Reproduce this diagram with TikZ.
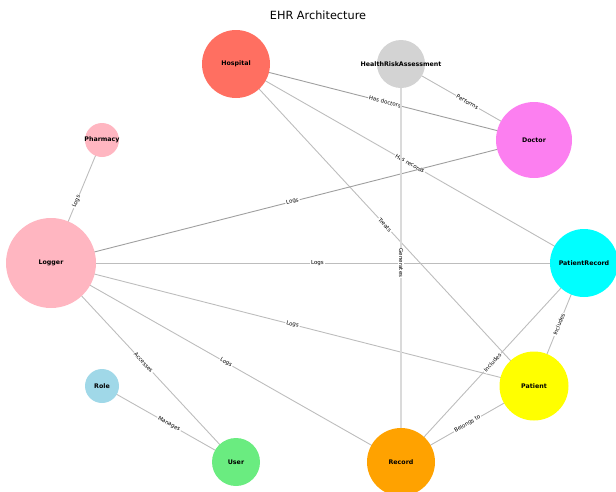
\documentclass[tikz,border=0pt]{standalone}
\usepackage{fontspec}
\setmainfont{DejaVu Sans}
\pgfdeclarelayer{bg}
\pgfsetlayers{bg,main}

\definecolor{hospitalred}{HTML}{FF6F61}
\definecolor{hragray}{HTML}{D3D3D3}
\definecolor{doctorpink}{HTML}{FC7FF0}
\definecolor{loggerpink}{HTML}{FFB6C1}
\definecolor{recordcyan}{HTML}{00FFFF}
\definecolor{roleblue}{HTML}{A0D8E8}
\definecolor{patientyellow}{HTML}{FFFF00}
\definecolor{usergreen}{HTML}{6AEC80}
\definecolor{recordorange}{HTML}{FFA200}
\definecolor{edgegray}{HTML}{BDBDBD}

\begin{document}
\begin{tikzpicture}[x=1pt, y=-1pt,
    entity/.style={circle, inner sep=0pt,
        label={[font=\fontsize{6.3}{7}\selectfont\bfseries]center:#1}},
    rel/.style={draw=edgegray, line width=0.9pt},
    lbl/.style={midway, sloped, fill=white, inner sep=1pt, font=\fontsize{5.5}{6}\selectfont}]

    \path[use as bounding box, clip] (0,0) rectangle (616,491);

    % Title
    \node (title) at (318,15) {\fontsize{11.3}{13}\selectfont EHR Architecture};

    % Entities
    \node[entity=Hospital, fill=hospitalred, minimum size=68pt] (hospital) at (236,64) {};
    \node[entity=HealthRiskAssessment, fill=hragray, minimum size=48pt] (hra) at (401,64) {};
    \node[entity=Doctor, fill=doctorpink, minimum size=76pt] (doctor) at (534,140) {};
    \node[entity=Pharmacy, fill=loggerpink, minimum size=34pt] (pharmacy) at (102,140) {};
    \node[entity=Logger, fill=loggerpink, minimum size=90pt] (logger) at (51,263) {};
    \node[entity=PatientRecord, fill=recordcyan, minimum size=68pt] (patientrecord) at (584,263) {};
    \node[entity=Role, fill=roleblue, minimum size=34pt] (role) at (102,386) {};
    \node[entity=Patient, fill=patientyellow, minimum size=69pt] (patient) at (534,386) {};
    \node[entity=User, fill=usergreen, minimum size=48pt] (user) at (236,462) {};
    \node[entity=Record, fill=recordorange, minimum size=68pt] (record) at (401,462) {};

    % Relations
    \begin{pgfonlayer}{bg}
    \draw[rel, draw=gray!75] (hospital.center) -- node[lbl] {Has doctors} (doctor.center);
    \draw[rel] (hospital.center) -- node[lbl] {Has records} (patientrecord.center);
    \draw[rel] (hospital.center) -- node[lbl] {Treats} (patient.center);
    \draw[rel] (hra.center) -- node[lbl] {Performs} (doctor.center);
    \draw[rel] (logger.center) -- node[lbl] {Logs} (pharmacy.center);
    \draw[rel, draw=gray!75] (logger.center) -- node[lbl] {Logs} (doctor.center);
    \draw[rel] (logger.center) -- node[lbl] {Logs} (patientrecord.center);
    \draw[rel] (logger.center) -- node[lbl] {Logs} (patient.center);
    \draw[rel] (logger.center) -- node[lbl] {Logs} (record.center);
    \draw[rel] (logger.center) -- node[lbl] {Accesses} (user.center);
    \draw[rel] (role.center) -- node[lbl] {Manages} (user.center);
    \draw[rel] (patientrecord.center) -- node[lbl] {Includes} (patient.center);
    \draw[rel] (patientrecord.center) -- node[lbl] {Includes} (record.center);
    \draw[rel] (record.center) -- node[lbl] {Belongs to} (patient.center);
    \draw[rel, draw=hragray!85, line width=2.5pt] (hra.center) -- node[lbl] {Generates} (record.center);
    \end{pgfonlayer}

\end{tikzpicture}
\end{document}
